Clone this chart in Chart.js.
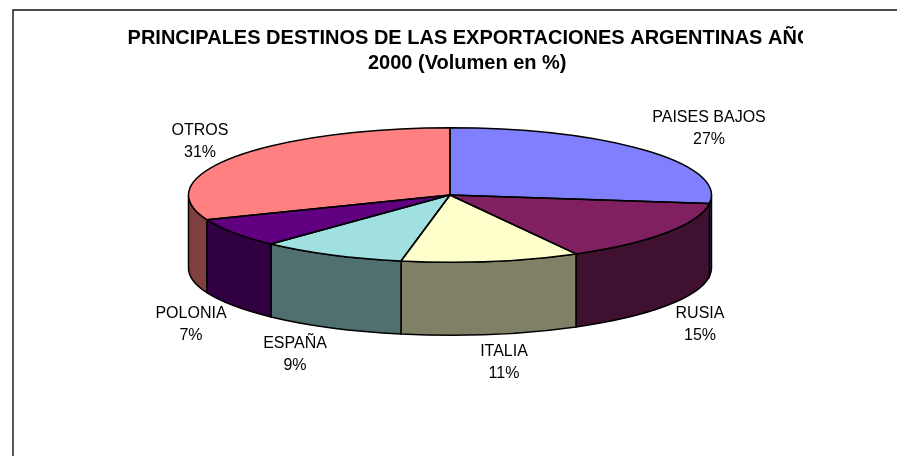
<!DOCTYPE html>
<html>
<head>
<meta charset="utf-8">
<title>Exportaciones argentinas 2000</title>
<script src="https://cdn.jsdelivr.net/npm/chart.js@4"></script>
<style>
    html, body { margin: 0; padding: 0; background: #fff; }
    #wrap { width: 897px; height: 456px; position: relative; overflow: hidden; }
</style>
</head>
<body>
<div id="wrap"><canvas id="pie3d" width="897" height="456"></canvas></div>
<script>
// Chart data
const titleLines = ['PRINCIPALES DESTINOS DE LAS EXPORTACIONES ARGENTINAS AÑO', '2000 (Volumen en %) '];
const categories = ['PAISES BAJOS', 'RUSIA', 'ITALIA', 'ESPAÑA', 'POLONIA', 'OTROS'];
const shares = [27, 15, 11, 9, 7, 31];
const topColors = ['#8080ff', '#802060', '#ffffcc', '#a0e0e0', '#600080', '#ff8080'];
const sideColors = ['#404080', '#401030', '#808066', '#507070', '#300040', '#804040'];

// Centre of each two-line label, in canvas pixels
const labelCentres = [[709, 129], [700, 325], [504, 363], [295, 355], [191, 325], [200, 142]];

const FONT = '"Liberation Sans", Arial, sans-serif';
const TILT = 0.257;      // ry / rx of the flattened pie
const DEPTH = 73;        // height of the pie wall
const EDGE_WIDTH = 1.5;
const TITLE_CLIP_X = 803;
const TITLE_CENTRE_X = 470;

function ellipseSlice(ctx, arc, from, to, reverse) {
    ctx.ellipse(arc.x, arc.y, arc.outerRadius, arc.outerRadius * TILT, 0, from, to, reverse);
}

// Frame, clipped title, pie wall, flattening and labels
const pie3dPlugin = {
    id: 'pie3d',
    afterLayout(chart) {
        // the title sits right of the pie centre in the original
        const block = chart.titleBlock;
        block.left = 2 * TITLE_CENTRE_X - block.right;
    },
    beforeDraw(chart) {
        const ctx = chart.ctx;
        ctx.save();
        ctx.fillStyle = '#fff';
        ctx.fillRect(0, 0, chart.width, chart.height);
        ctx.strokeStyle = '#111';
        ctx.lineWidth = 1.4;
        ctx.beginPath();
        ctx.moveTo(13, chart.height);
        ctx.lineTo(13, 10);
        ctx.lineTo(chart.width, 10);
        ctx.stroke();
        ctx.restore();
        // title is drawn right after this hook, cut off like the original
        ctx.save();
        ctx.beginPath();
        ctx.rect(0, 0, TITLE_CLIP_X, chart.height);
        ctx.clip();
    },
    beforeDatasetsDraw(chart) {
        const ctx = chart.ctx;
        ctx.restore();
        const arcs = chart.getDatasetMeta(0).data;

        // wall of every slice that faces the viewer
        arcs.forEach((arc, i) => {
            const from = Math.max(arc.startAngle, 0);
            const to = Math.min(arc.endAngle, Math.PI);
            if (to <= from) return;
            ctx.beginPath();
            ellipseSlice(ctx, arc, from, to);
            ctx.save();
            ctx.translate(0, DEPTH);
            ellipseSlice(ctx, arc, to, from, true);
            ctx.restore();
            ctx.closePath();
            ctx.fillStyle = sideColors[i];
            ctx.fill();
            ctx.strokeStyle = '#000';
            ctx.lineWidth = EDGE_WIDTH;
            ctx.stroke();
        });

        // top face: the library's arcs, squashed vertically
        const first = arcs[0];
        ctx.save();
        ctx.translate(first.x, first.y);
        ctx.scale(1, TILT);
        ctx.translate(-first.x, -first.y);
    },
    afterDatasetsDraw(chart) {
        const ctx = chart.ctx;
        ctx.restore();
        const arcs = chart.getDatasetMeta(0).data;

        ctx.strokeStyle = '#000';
        ctx.lineWidth = EDGE_WIDTH;
        ctx.lineJoin = 'round';
        arcs.forEach((arc) => {
            ctx.beginPath();
            ctx.moveTo(arc.x, arc.y);
            ellipseSlice(ctx, arc, arc.startAngle, arc.endAngle);
            ctx.closePath();
            ctx.stroke();
        });

        ctx.fillStyle = '#000';
        ctx.font = '16px ' + FONT;
        ctx.textAlign = 'center';
        ctx.textBaseline = 'middle';
        categories.forEach((name, i) => {
            const [x, y] = labelCentres[i];
            ctx.fillText(name, x, y - 11);
            ctx.fillText(shares[i] + '%', x, y + 11);
        });
    }
};

new Chart(document.getElementById('pie3d').getContext('2d'), {
    type: 'pie',
    data: {
        labels: categories,
        datasets: [
            {
                data: shares,
                backgroundColor: topColors,
                borderWidth: 0,
                radius: 261.5,
                clip: false,
            },
        ],
    },
    options: {
        responsive: false,
        animation: false,
        layout: { padding: { left: 3, right: 0, top: 0, bottom: 142 } },
        plugins: {
            legend: { display: false },
            tooltip: { enabled: false },
            title: {
                display: true,
                text: titleLines,
                color: '#000',
                font: { family: FONT, size: 20, weight: 'bold', lineHeight: 1.25 },
                padding: { top: 26, bottom: 0 },
            },
        },
    },
    plugins: [pie3dPlugin],
});
</script>
</body>
</html>
